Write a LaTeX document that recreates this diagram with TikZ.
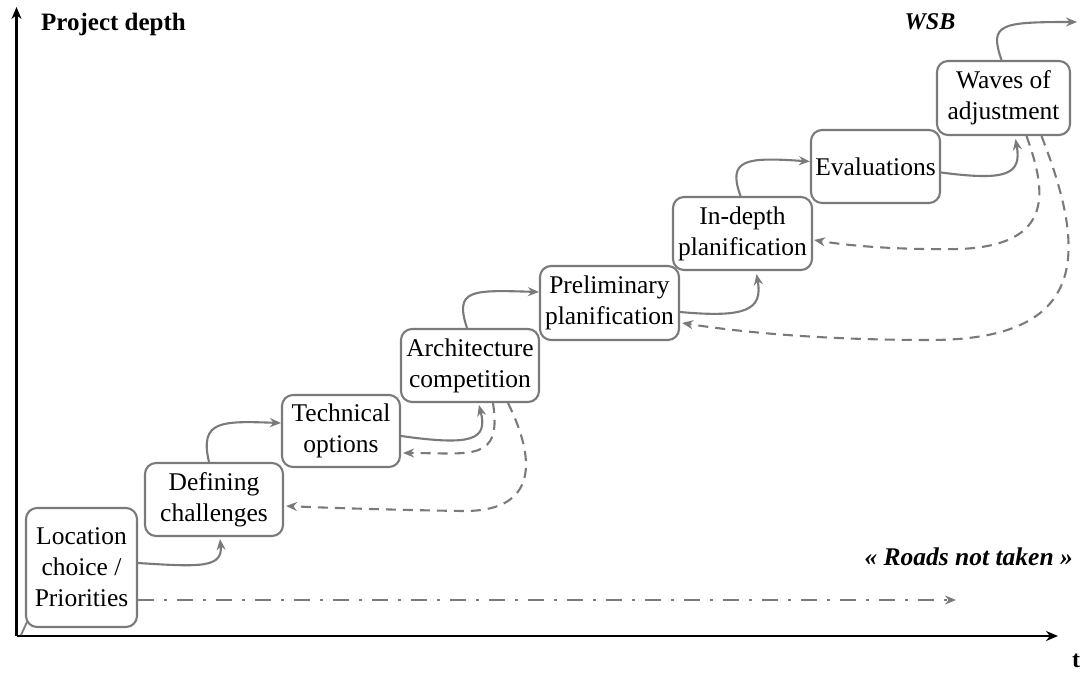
\documentclass[tikz,border=0pt]{standalone}
\usepackage{fontspec}
\setmainfont{Liberation Serif}
\usetikzlibrary{arrows.meta,calc}
\definecolor{linegray}{RGB}{122,122,122}
\begin{document}
\begin{tikzpicture}[x=1pt,y=-1pt,
  stage/.style={draw=linegray, line width=2.1pt, rounded corners=11pt, fill=white,
    align=center, inner sep=0pt, font=\fontsize{25.5}{31}\selectfont},
  fwd/.style={draw=linegray, line width=2.1pt, -{Stealth[length=11pt,width=9pt]}},
  back/.style={draw=linegray, line width=2.1pt, dash pattern=on 10pt off 7pt,
    -{Stealth[length=11pt,width=9pt]}},
  road/.style={draw=linegray, line width=2.3pt,
    dash pattern=on 16pt off 10pt on 3pt off 10pt, -{Stealth[length=11pt,width=9pt]}},
  axis/.style={draw=black, line width=2.8pt, -{Stealth[length=12pt,width=10pt]}},
  lbl/.style={inner sep=0pt}]
\useasboundingbox (0,0) rectangle (1084,674);

% axes
\coordinate (origin) at (16.5,636);
\coordinate (ytop) at (16.5,7);
\coordinate (xend) at (1058,636);
\draw[axis] (origin) -- (ytop);
\draw[axis] (origin) -- (xend);
\coordinate (tickA) at (21,635);
\coordinate (tickB) at (27,622);
\draw[linegray, line width=1.8pt] (tickA) -- (tickB);

% stages
\node[stage, minimum width=111pt, minimum height=119pt] (loc) at (81.5,567.5) {Location\\choice /\\Priorities};
\node[stage, minimum width=138pt, minimum height=73pt] (def) at (214,499.5) {Defining\\challenges};
\node[stage, minimum width=118pt, minimum height=72pt] (tech) at (341,431) {Technical\\options};
\node[stage, minimum width=138pt, minimum height=73pt] (arch) at (470,365.5) {Architecture\\competition};
\node[stage, minimum width=139pt, minimum height=74pt] (prel) at (609.5,303) {Preliminary\\planification};
\node[stage, minimum width=139pt, minimum height=73pt] (deep) at (742.5,233.5) {In-depth\\planification};
\node[stage, minimum width=129pt, minimum height=73pt] (eval) at (875.5,166.5) {Evaluations};
\node[stage, minimum width=133pt, minimum height=74pt] (wave) at (1003.5,98) {Waves of\\adjustment};

% labels
\node[lbl, anchor=west, font=\fontsize{25}{30}\selectfont\bfseries] (ylab) at (41,24) {Project depth};
\node[lbl, font=\fontsize{24}{29}\selectfont\bfseries\itshape] (wsb) at (930,22) {WSB};
\node[lbl, anchor=east, font=\fontsize{25.5}{30}\selectfont\bfseries\itshape] (roads) at (1073,557) {« Roads not taken »};
\node[lbl, font=\fontsize{24}{29}\selectfont\bfseries] (tlab) at (1076,661) {t};

% forward steps
\draw[fwd] ($(loc.east)+(0,-4.5)$) .. controls (200,567) and (223,568) .. ($(def.south)+(6,2)$);
\draw[fwd] ($(def.north)+(-5,0)$) .. controls (199,420) and (222,421) .. ($(tech.west)+(0,-8)$);
\draw[fwd] ($(tech.east)+(0,5)$) .. controls (472,446) and (488,440) .. ($(arch.south)+(9,2)$);
\draw[fwd] ($(arch.north)+(-3,0)$) .. controls (454,289) and (472,290) .. ($(prel.west)+(0,-11)$);
\draw[fwd] ($(prel.east)+(0,9)$) .. controls (746,318) and (763,310) .. ($(deep.south)+(14,3)$);
\draw[fwd] ($(deep.north)+(-2,0)$) .. controls (727,159) and (746,157) .. ($(eval.west)+(0,-5)$);
\draw[fwd] ($(eval.east)+(0,6)$) .. controls (1006,181) and (1022,175) .. ($(wave.south)+(12,3)$);
\coordinate (exit) at (1077,22);
\draw[fwd] ($(wave.north)+(-2,0)$) .. controls (989,24) and (1000,22) .. (exit);

% iterations back
\draw[back] ($(arch.south)+(23,0)$) .. controls (502,462) and (472,453) .. ($(tech.east)+(2,22)$);
\draw[back] ($(arch.south)+(38,0)$) .. controls (540,468) and (532,512) .. (462,511)
  .. controls (400,510) and (330,508) .. ($(def.east)+(2,6.5)$);
\draw[back] ($(wave.south)+(23,0)$) .. controls (1046,190) and (1056,245) .. (960,249)
  .. controls (900,250) and (850,246) .. ($(deep.east)+(1,6.5)$);
\draw[back] ($(wave.south)+(38,0)$) .. controls (1086,250) and (1092,340) .. (930,340)
  .. controls (820,340) and (740,332) .. ($(prel.east)+(2,20)$);

% roads not taken
\coordinate (roadend) at (956,600);
\draw[road] ($(loc.east)+(0,32.5)$) -- (roadend);
\end{tikzpicture}
\end{document}
